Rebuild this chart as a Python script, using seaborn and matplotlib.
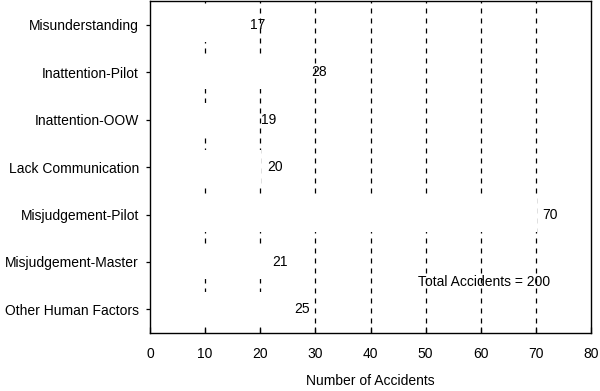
import matplotlib
matplotlib.use('Agg')
import matplotlib.pyplot as plt
import seaborn as sns
import pandas as pd
from matplotlib import font_manager

# Data
factors = ['Misunderstanding', 'Inattention-Pilot', 'Inattention-OOW', 'Lack Communication',
           'Misjudgement-Pilot', 'Misjudgement-Master', 'Other Human Factors']
accidents = [17, 28, 19, 20, 70, 21, 25]
x_ticks = [0, 10, 20, 30, 40, 50, 60, 70, 80]
total_note = 'Total Accidents = 200'

df = pd.DataFrame({'factor': factors, 'accidents': accidents})

sns.set_style('white')
installed = {f.name for f in font_manager.fontManager.ttflist}
family = 'Liberation Sans Narrow' if 'Liberation Sans Narrow' in installed else 'Liberation Sans'
plt.rcParams['font.family'] = [family, 'DejaVu Sans']
plt.rcParams.update({'text.color': 'black', 'axes.labelcolor': 'black',
                     'xtick.color': 'black', 'ytick.color': 'black'})

fig, ax = plt.subplots(figsize=(6, 3.91), dpi=100)
fig.subplots_adjust(left=0.25, right=0.985, top=0.997, bottom=0.148)

# dashed vertical grid sits behind the white bars
ax.set_axisbelow(True)
for x in x_ticks[1:-1]:
    ax.axvline(x, color='black', linestyle=(0, (4, 4)), linewidth=0.9, zorder=0)

sns.barplot(data=df, x='accidents', y='factor', orient='h', color='white',
            edgecolor='white', linewidth=1.5, width=0.68, ax=ax, zorder=1)

for i, v in enumerate(accidents):
    ax.text(v + 1.2, i, str(v), va='center', ha='left', fontsize=10, zorder=3)

ax.text(60.6, 5.42, total_note, va='center', ha='center', fontsize=10, zorder=3)

ax.set_xlim(0, 80)
ax.set_ylim(6.5, -0.5)
ax.set_xticks(x_ticks)
ax.set_xticklabels([str(t) for t in x_ticks], fontsize=10)
ax.tick_params(axis='x', bottom=True, direction='in', length=4, width=0.9, pad=10, color='black')
ax.tick_params(axis='y', left=True, direction='out', length=3, width=0.9, pad=5,
               labelsize=10, color='black')
ax.set_xlabel('Number of Accidents', fontsize=10, labelpad=9)
ax.set_ylabel('')

for side in ['left', 'right', 'top', 'bottom']:
    ax.spines[side].set_visible(True)
    ax.spines[side].set_color('black')
    ax.spines[side].set_linewidth(1)
    ax.spines[side].set_zorder(2)

plt.savefig('out.png', dpi=100)
plt.close()
